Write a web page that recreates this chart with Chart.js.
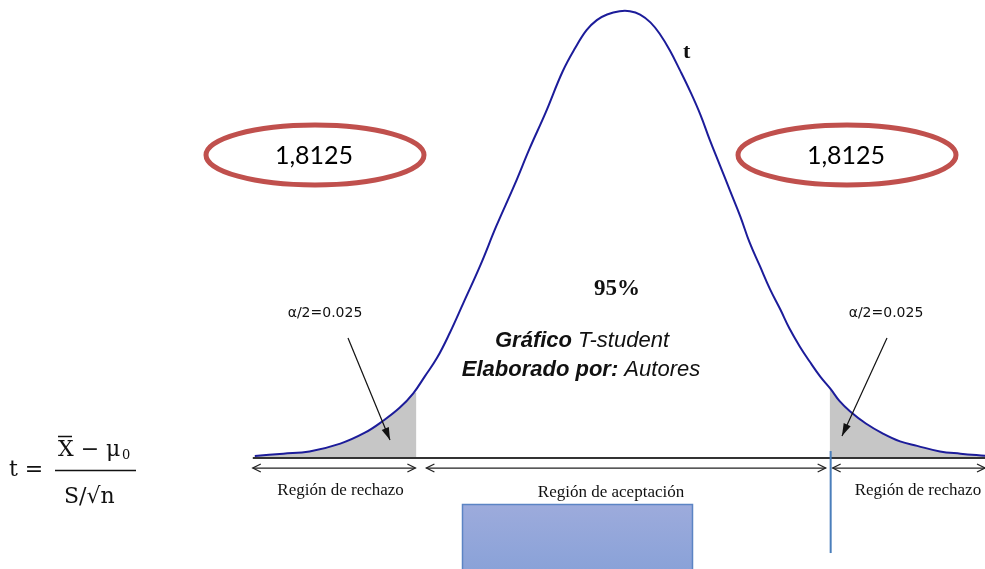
<!DOCTYPE html>
<html>
<head>
<meta charset="utf-8">
<script src="https://cdn.jsdelivr.net/npm/chart.js@4/dist/chart.umd.min.js"></script>
<style>
  html, body { margin: 0; padding: 0; background: #fff; }
  #wrap { width: 985px; height: 569px; position: relative; }
</style>
</head>
<body>
<div id="wrap"><canvas id="tChart" width="985" height="569"></canvas></div>
<script>
// t values along the curve
var curveT = [
    -3.23, -2.98, -2.75, -2.48, -2.26, -2.11, -1.96, -1.84, -1.74, -1.63,
    -1.52, -1.40, -1.25, -1.11, -0.95, -0.82, -0.68, -0.53, -0.42, -0.32,
    -0.23, -0.14, -0.03, 0.06, 0.15, 0.24, 0.32, 0.41, 0.50, 0.59,
    0.68, 0.76, 0.85, 0.94, 1.03, 1.11, 1.20, 1.29, 1.38, 1.46,
    1.55, 1.64, 1.73, 1.82, 1.90, 1.99, 2.13, 2.28, 2.43, 2.58,
    2.78, 2.96, 3.18
];
// density at each t
var curveDensity = [
    0.001, 0.003, 0.005, 0.012, 0.022, 0.032, 0.044, 0.057, 0.072, 0.089,
    0.111, 0.138, 0.172, 0.207, 0.244, 0.276, 0.308, 0.345, 0.366, 0.382,
    0.391, 0.396, 0.399, 0.399, 0.396, 0.389, 0.379, 0.364, 0.346, 0.327,
    0.306, 0.284, 0.261, 0.238, 0.215, 0.192, 0.171, 0.150, 0.132, 0.115,
    0.099, 0.085, 0.072, 0.061, 0.050, 0.041, 0.030, 0.021, 0.014, 0.010,
    0.005, 0.003, 0.001
];
var criticalT = 1.8125;
var criticalLabel = "1,8125";
var edgeDensity = [0.058, 0.061];   // curve height at -t and +t
var alphaLabel = "\u03b1/2=0.025";
var confidenceLabel = "95%";
var regionLabels = ["Regi\u00f3n de rechazo", "Regi\u00f3n de aceptaci\u00f3n", "Regi\u00f3n de rechazo"];

var curvePoints = [];
var leftTail = [];
var rightTail = [{x: criticalT, y: edgeDensity[1]}];
for (var i = 0; i < curveT.length; i++) {
    var p = {x: curveT[i], y: curveDensity[i]};
    curvePoints.push(p);
    if (curveT[i] < -criticalT) leftTail.push(p);
    if (curveT[i] > criticalT) rightTail.push(p);
}
leftTail.push({x: -criticalT, y: edgeDensity[0]});

function arrowHead(ctx, x, y, dir) {
    ctx.beginPath();
    ctx.moveTo(x - dir * 8, y - 4);
    ctx.lineTo(x, y);
    ctx.lineTo(x - dir * 8, y + 4);
    ctx.stroke();
}

function ellipseLabel(ctx, cx, cy, text) {
    ctx.save();
    ctx.beginPath();
    ctx.ellipse(cx, cy, 109, 30, 0, 0, Math.PI * 2);
    ctx.lineWidth = 5;
    ctx.strokeStyle = "#c0504d";
    ctx.stroke();
    ctx.fillStyle = "#000";
    ctx.font = "25px Lato, 'Liberation Sans', sans-serif";
    ctx.textAlign = "center";
    ctx.textBaseline = "middle";
    ctx.fillText(text, cx - 1, cy + 1);
    ctx.restore();
}

function pointerArrow(ctx, x1, y1, x2, y2) {
    ctx.save();
    ctx.strokeStyle = "#111";
    ctx.fillStyle = "#111";
    ctx.lineWidth = 1.2;
    ctx.beginPath();
    ctx.moveTo(x1, y1);
    ctx.lineTo(x2, y2);
    ctx.stroke();
    var a = Math.atan2(y2 - y1, x2 - x1);
    ctx.beginPath();
    ctx.moveTo(x2, y2);
    ctx.lineTo(x2 - 13 * Math.cos(a - 0.3), y2 - 13 * Math.sin(a - 0.3));
    ctx.lineTo(x2 - 13 * Math.cos(a + 0.3), y2 - 13 * Math.sin(a + 0.3));
    ctx.closePath();
    ctx.fill();
    ctx.restore();
}

var decorations = {
    id: 'decorations',
    afterDatasetsDraw: function(chart) {
        var ctx = chart.ctx;
        var xs = chart.scales.x, ys = chart.scales.y;
        var y0 = ys.getPixelForValue(0);
        var xStart = xs.getPixelForValue(curveT[0]) - 2;
        var xEnd = chart.chartArea.right;
        var xl = xs.getPixelForValue(-criticalT);
        var xr = xs.getPixelForValue(criticalT);
        var xc = xs.getPixelForValue(0);

        ctx.save();
        // base line
        ctx.strokeStyle = "#333";
        ctx.lineWidth = 2;
        ctx.beginPath();
        ctx.moveTo(xStart, y0 + 1);
        ctx.lineTo(xEnd, y0 + 1);
        ctx.stroke();

        // region arrows
        var ya = y0 + 11;
        ctx.lineWidth = 1.3;
        ctx.strokeStyle = "#222";
        var segs = [[xStart, xl - 1], [xl + 10, xr - 4], [xr + 3, xEnd]];
        segs.forEach(function(s) {
            ctx.beginPath();
            ctx.moveTo(s[0], ya);
            ctx.lineTo(s[1], ya);
            ctx.stroke();
            arrowHead(ctx, s[0], ya, -1);
            arrowHead(ctx, s[1], ya, 1);
        });

        ctx.fillStyle = "#111";
        ctx.font = "17px 'Liberation Serif', serif";
        ctx.textAlign = "center";
        ctx.textBaseline = "middle";
        ctx.fillText(regionLabels[0], (xStart + xl) / 2 + 6, ya + 22);
        ctx.fillText(regionLabels[1], (xl + xr) / 2 - 12, ya + 24);
        ctx.textAlign = "left";
        ctx.fillText(regionLabels[2], xr + 25, ya + 22);

        // blue marker line at +t
        ctx.strokeStyle = "#4a7ebb";
        ctx.lineWidth = 2;
        ctx.beginPath();
        ctx.moveTo(xr + 1, y0 - 6);
        ctx.lineTo(xr + 1, y0 + 96);
        ctx.stroke();

        // blue box
        var grd = ctx.createLinearGradient(0, 504, 0, 569);
        grd.addColorStop(0, "#9dabdc");
        grd.addColorStop(1, "#8aa2d8");
        ctx.fillStyle = grd;
        ctx.fillRect(462, 504, 231, 66);
        ctx.strokeStyle = "#5b84c4";
        ctx.lineWidth = 1.5;
        ctx.strokeRect(462.5, 504.5, 230, 70);

        // t label
        ctx.fillStyle = "#111";
        ctx.font = "bold 22px 'Liberation Serif', serif";
        ctx.textAlign = "left";
        ctx.fillText("t", 683, 52);

        // 95%
        ctx.font = "bold 23px 'Liberation Serif', serif";
        ctx.textAlign = "center";
        ctx.fillText(confidenceLabel, xc - 6, 289);

        // alpha labels
        ctx.font = "14px 'DejaVu Sans', sans-serif";
        ctx.fillText(alphaLabel, 325, 313);
        ctx.fillText(alphaLabel, 886, 313);
        pointerArrow(ctx, 348, 338, 390, 440);
        pointerArrow(ctx, 887, 338, 842, 436);

        // caption
        ctx.textAlign = "left";
        ctx.font = "bold italic 22px 'Liberation Sans', Arial, sans-serif";
        var w1 = ctx.measureText("Gr\u00e1fico").width;
        ctx.font = "italic 22px 'Liberation Sans', Arial, sans-serif";
        var w2 = ctx.measureText(" T-student").width;
        var sx = 582 - (w1 + w2) / 2;
        ctx.font = "bold italic 22px 'Liberation Sans', Arial, sans-serif";
        ctx.fillText("Gr\u00e1fico", sx, 341);
        ctx.font = "italic 22px 'Liberation Sans', Arial, sans-serif";
        ctx.fillText(" T-student", sx + w1, 341);

        ctx.font = "bold italic 22px 'Liberation Sans', Arial, sans-serif";
        var w3 = ctx.measureText("Elaborado por:").width;
        ctx.font = "italic 22px 'Liberation Sans', Arial, sans-serif";
        var w4 = ctx.measureText(" Autores").width;
        sx = 581 - (w3 + w4) / 2;
        ctx.font = "bold italic 22px 'Liberation Sans', Arial, sans-serif";
        ctx.fillText("Elaborado por:", sx, 370);
        ctx.font = "italic 22px 'Liberation Sans', Arial, sans-serif";
        ctx.fillText(" Autores", sx + w3, 370);

        // ellipses with the critical value
        ellipseLabel(ctx, 315, 155, criticalLabel);
        ellipseLabel(ctx, 847, 155, criticalLabel);

        // formula
        ctx.font = "22px 'DejaVu Serif', 'Liberation Serif', serif";
        ctx.textAlign = "left";
        ctx.fillText("t =", 9, 470);
        ctx.fillText("X \u2212 \u03bc", 58, 450);
        ctx.font = "13px 'DejaVu Serif', serif";
        ctx.fillText("0", 122, 456);
        ctx.font = "22px 'DejaVu Serif', 'Liberation Serif', serif";
        ctx.fillText("S/\u221an", 64, 497);
        ctx.lineWidth = 1.5;
        ctx.strokeStyle = "#111";
        ctx.beginPath();
        ctx.moveTo(55, 470.5);
        ctx.lineTo(136, 470.5);
        ctx.moveTo(58, 436.5);
        ctx.lineTo(72, 436.5);
        ctx.stroke();
        ctx.restore();
    }
};

var chart = new Chart(document.getElementById("tChart").getContext("2d"), {
    type: 'line',
    data: {
        datasets: [
            {
                label: 't',
                data: curvePoints,
                borderColor: '#1c1c9a',
                borderWidth: 2,
                pointRadius: 0,
                fill: false,
                tension: 0.4,
                order: 0
            },
            {
                label: 'left tail',
                data: leftTail,
                borderWidth: 0,
                borderColor: 'rgba(0,0,0,0)',
                backgroundColor: '#c6c6c6',
                pointRadius: 0,
                fill: 'origin',
                tension: 0.4,
                order: 1
            },
            {
                label: 'right tail',
                data: rightTail,
                borderWidth: 0,
                borderColor: 'rgba(0,0,0,0)',
                backgroundColor: '#c6c6c6',
                pointRadius: 0,
                fill: 'origin',
                tension: 0.4,
                order: 1
            }
        ]
    },
    options: {
        responsive: false,
        animation: false,
        devicePixelRatio: 1,
        layout: { padding: 0 },
        plugins: {
            legend: { display: false },
            tooltip: { enabled: false },
            title: { display: false }
        },
        scales: {
            x: {
                type: 'linear',
                display: false,
                min: -5.465,
                max: 3.175
            },
            y: {
                type: 'linear',
                display: false,
                min: -0.1002,
                max: 0.409
            }
        }
    },
    plugins: [decorations]
});
</script>
</body>
</html>
